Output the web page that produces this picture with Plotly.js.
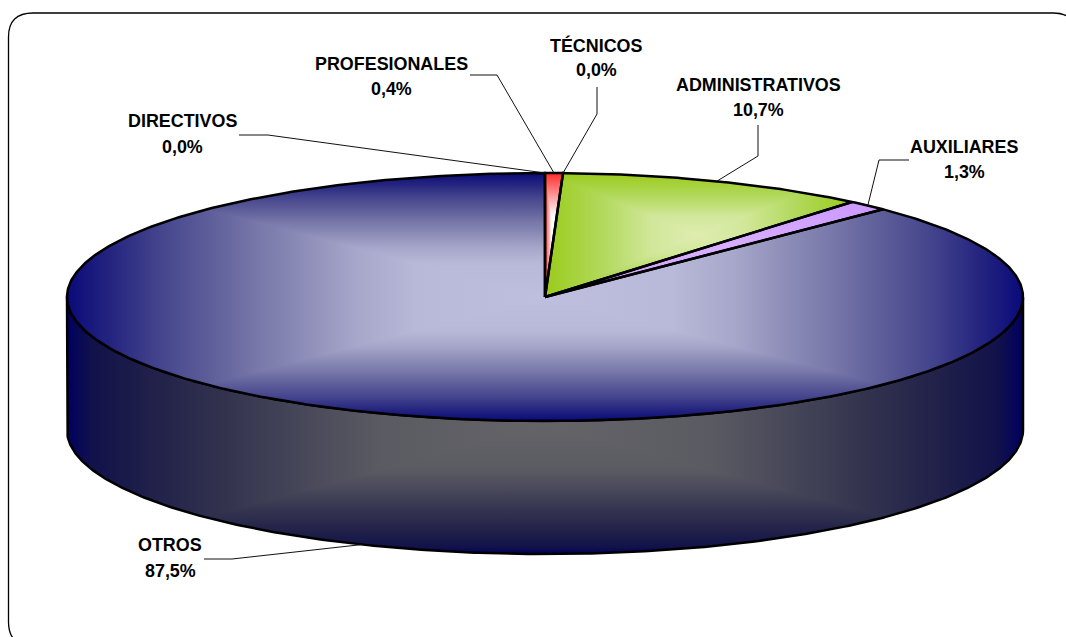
<!DOCTYPE html>
<html>
<head>
<meta charset="utf-8">
<script src="https://cdn.plot.ly/plotly-3.0.1.min.js"></script>
<style>html,body{margin:0;padding:0;background:#fff}#chart{width:1066px;height:637px}</style>
</head>
<body>
<div id="chart"></div>
<script>
// ---- data ----
var categories = ['DIRECTIVOS', 'PROFESIONALES', 'TÉCNICOS', 'ADMINISTRATIVOS', 'AUXILIARES', 'OTROS'];
var values = [0.0, 0.4, 0.0, 10.7, 1.3, 87.5];          // printed percentages
var drawnShares = [0.0, 0.6, 0.0, 10.5, 1.4, 87.5];     // slice sizes as drawn on the rim

// ---- geometry and style ----
var W = 1066, H = 637;
var CX = 545, CY = 297, RX = 478, RY = 124, DEPTH = 133;
var topScale = [[0, '#bebede'], [0.27, '#b8b8d8'], [0.40, '#a6a6ca'], [0.49, '#9090ba'], [0.60, '#7878aa'], [0.70, '#5e5e9a'], [0.80, '#46468e'], [0.91, '#24247f'], [1, '#0a0a7a']];
var wallScale = [[0, '#646468'], [0.35, '#5a5a62'], [0.5, '#48485a'], [0.66, '#34344f'], [0.81, '#22224a'], [0.945, '#12124a'], [1, '#000060']];
var sliceScales = [
  null,
  [[0, '#ffffff'], [0.3, '#ffffff'], [1, '#ff2a2a']],
  null,
  [[0, '#deedb0'], [0.3, '#d2e79a'], [0.6, '#b4da62'], [1, '#9acb1a']],
  [[0, '#d8b0ff'], [1, '#cc99ff']],
  topScale
];
var labelCenters = [[182, 121, 147], [391, 64, 89], [596, 45, 70], [758, 85, 110], [964, 147, 172], [170, 545, 571]];
var leaderElbows = [
  [[239, 135], [268, 135]],
  [[470, 75], [497, 75]],
  [[597, 87], [597, 114]],
  [[758, 125], [758, 156]],
  [[909, 160], [879, 160]],
  [[204, 559], [232, 559]]
];
var framePath = 'M 8.5 37 Q 8.5 13 33 13 L 1053 13 Q 1077 13 1077 37 L 1077 622 Q 1077 646 1053 646 L 33 646 Q 8.5 646 8.5 622 Z';

// ---- helpers ----
function rim(deg, dy) {
  var a = deg * Math.PI / 180;
  return [CX + RX * Math.sin(a), CY + (dy || 0) - RY * Math.cos(a)];
}
function arc(a, b, dy) {
  var pts = [], n = Math.max(2, Math.ceil(Math.abs(b - a) * 2));
  for (var i = 0; i <= n; i++) pts.push(rim(a + (b - a) * i / n, dy));
  return pts;
}
function mirror(scale) {
  var out = [];
  for (var i = scale.length - 1; i >= 0; i--) out.push([(1 - scale[i][0]) / 2, scale[i][1]]);
  for (var j = 1; j < scale.length; j++) out.push([(1 + scale[j][0]) / 2, scale[j][1]]);
  return out;
}
function clipHalf(poly, p, q, inside) {
  function side(r) { return (q[0] - p[0]) * (r[1] - p[1]) - (q[1] - p[1]) * (r[0] - p[0]); }
  var s0 = side(inside), out = [];
  for (var i = 0; i < poly.length; i++) {
    var a = poly[i], b = poly[(i + 1) % poly.length];
    var sa = side(a) * s0, sb = side(b) * s0;
    if (sa >= 0) out.push(a);
    if ((sa >= 0) !== (sb >= 0)) {
      var t = sa / (sa - sb);
      out.push([a[0] + (b[0] - a[0]) * t, a[1] + (b[1] - a[1]) * t]);
    }
  }
  return out;
}
function clipTriangle(poly, t) {
  var r = poly;
  for (var i = 0; i < 3 && r.length; i++) r = clipHalf(r, t[i], t[(i + 1) % 3], t[(i + 2) % 3]);
  return r;
}
function fillTrace(poly, type, start, stop, scale) {
  var closed = poly.concat([poly[0]]);
  return {
    type: 'scatter', mode: 'lines', hoverinfo: 'skip', showlegend: false,
    x: closed.map(function (p) { return p[0]; }),
    y: closed.map(function (p) { return p[1]; }),
    line: {width: 0, color: 'rgba(0,0,0,0)'},
    fill: 'toself',
    fillgradient: {type: type, start: start, stop: stop, colorscale: scale}
  };
}
function outline(poly, w) {
  var closed = poly.concat([poly[0]]);
  return {
    type: 'scatter', mode: 'lines', hoverinfo: 'skip', showlegend: false,
    x: closed.map(function (p) { return p[0]; }),
    y: closed.map(function (p) { return p[1]; }),
    line: {width: w, color: '#000000'}
  };
}
// rectangular ("from centre") gradient: one horizontal base + vertical top and bottom wedges
function rectGradient(poly, scale, skipUpper) {
  var xs = poly.map(function (p) { return p[0]; }), ys = poly.map(function (p) { return p[1]; });
  var x0 = Math.min.apply(null, xs), x1 = Math.max.apply(null, xs);
  var y0 = Math.min.apply(null, ys), y1 = Math.max.apply(null, ys);
  var c = [(x0 + x1) / 2, (y0 + y1) / 2], cs = mirror(scale);
  var out = [fillTrace(poly, 'horizontal', x0, x1, cs)];
  var upper = clipTriangle(poly, [[x0, y0], [x1, y0], c]);
  var lower = clipTriangle(poly, [[x0, y1], [x1, y1], c]);
  if (!skipUpper && upper.length > 2) out.push(fillTrace(upper, 'vertical', y0, y1, cs));
  if (lower.length > 2) out.push(fillTrace(lower, 'vertical', y0, y1, cs));
  return out;
}

// ---- build marks from the values ----
var traces = [];
var wall = arc(90, 270, 0).concat(arc(270, 90, DEPTH));
traces = traces.concat(rectGradient(wall, wallScale, true));
traces.push(outline(wall, 2.5));

var acc = 0, sliceTraces = [], lineTraces = [], mids = [];
drawnShares.forEach(function (share, i) {
  var a = acc * 3.6, b = (acc + share) * 3.6;
  acc += share;
  mids.push((a + b) / 2);
  if (share <= 0) return;
  var poly = [[CX, CY]].concat(arc(a, b, 0));
  sliceTraces = sliceTraces.concat(rectGradient(poly, sliceScales[i]));
  lineTraces.push(outline(poly, 2.5));
});
traces = traces.concat(sliceTraces, lineTraces);

// leader lines run from the label elbow to the middle of each slice's rim
categories.forEach(function (c, i) {
  var end = (c === 'OTROS') ? rim(mids[i], DEPTH) : rim(mids[i], 0);
  var pts = leaderElbows[i].concat([end]);
  traces.push({
    type: 'scatter', mode: 'lines', hoverinfo: 'skip', showlegend: false,
    x: pts.map(function (p) { return p[0]; }),
    y: pts.map(function (p) { return p[1]; }),
    line: {width: 1, color: '#111111'}
  });
});

var annotations = [];
categories.forEach(function (c, i) {
  var pos = labelCenters[i];
  [[c, pos[1]], [values[i].toFixed(1).replace('.', ',') + '%', pos[2]]].forEach(function (row) {
    annotations.push({
      text: '<b>' + row[0] + '</b>', x: pos[0], y: row[1], xref: 'x', yref: 'y',
      showarrow: false, xanchor: 'center', yanchor: 'middle',
      font: {family: '"Liberation Sans", Arial, sans-serif', size: 17.9, color: '#000000'}
    });
  });
});

var layout = {
  width: W, height: H,
  margin: {l: 0, r: 0, t: 0, b: 0, pad: 0},
  paper_bgcolor: '#ffffff', plot_bgcolor: '#ffffff',
  showlegend: false,
  xaxis: {range: [0, W], visible: false, fixedrange: true},
  yaxis: {range: [H, 0], visible: false, fixedrange: true},
  annotations: annotations,
  shapes: [{type: 'path', path: framePath, xref: 'x', yref: 'y', line: {color: '#000000', width: 1.3}, layer: 'below'}]
};
Plotly.newPlot('chart', traces, layout, {displayModeBar: false, staticPlot: true});
</script>
</body>
</html>
